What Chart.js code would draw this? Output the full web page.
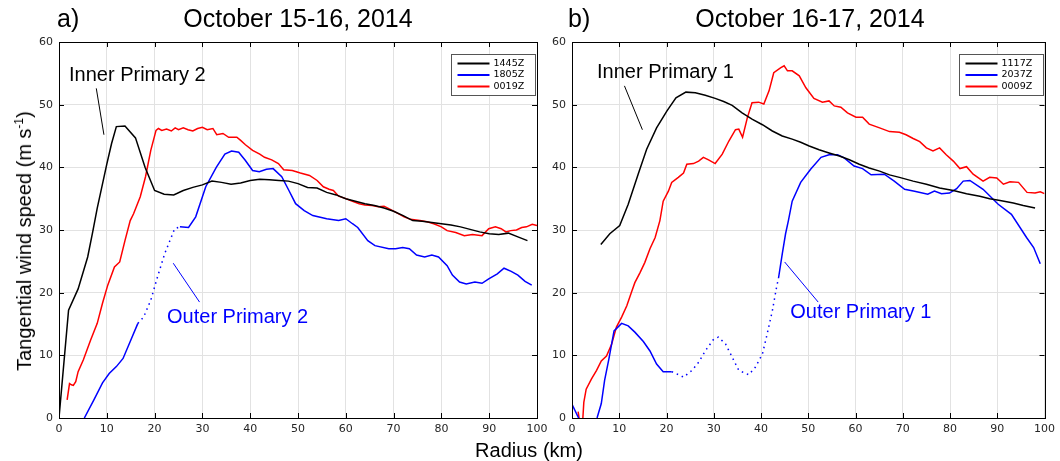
<!DOCTYPE html>
<html>
<head>
<meta charset="utf-8">
<script src="https://cdn.jsdelivr.net/npm/chart.js@4.4.1/dist/chart.umd.min.js"></script>
<style>
    body { margin: 0; width: 1060px; height: 461px; position: relative; background: #fff; overflow: hidden;
           font-family: "Liberation Sans", Arial, sans-serif; color: #000; }
    canvas { position: absolute; top: 0; }
    .txt { position: absolute; white-space: nowrap; line-height: 1; }
    .ytitle { position: absolute; left: 24px; top: 241px; font-size: 20px; white-space: nowrap; line-height: 1;
              transform: translate(-50%, -50%) rotate(-90deg); }
    .ytitle sup { font-size: 12px; vertical-align: 8px; line-height: 0; }
</style>
</head>
<body>
<canvas id="chartA" width="560" height="461" style="left:0"></canvas>
<canvas id="chartB" width="530" height="461" style="left:530px"></canvas>

<div class="txt" style="left:57px;top:6px;font-size:25px">a)</div>
<div class="txt" style="left:298px;top:6px;font-size:25px;transform:translateX(-50%)">October 15-16, 2014</div>
<div class="txt" style="left:568px;top:6px;font-size:25px">b)</div>
<div class="txt" style="left:810px;top:6px;font-size:25px;transform:translateX(-50%)">October 16-17, 2014</div>
<div class="ytitle">Tangential wind speed (m s<sup>-1</sup>)</div>
<div class="txt" style="left:529px;top:440px;font-size:20px;transform:translateX(-50%)">Radius (km)</div>

<script>
    // Panel a) October 15-16, 2014
    const a1445R = [0, 2, 4, 6, 7, 8, 9, 10, 11, 12, 13.8, 16, 18, 20, 22, 24, 26, 28, 30, 32, 34, 36, 38, 40, 42, 44, 46, 48,
        50, 52, 54, 56, 58, 60, 62, 64, 66, 68, 70, 72, 74, 76, 78, 80, 82, 84, 86, 88, 90, 92, 94, 96, 98];
    const a1445V = [0, 17.2, 20.6, 25.7, 29.5, 33.5, 37, 40.5, 43.8, 46.5, 46.6, 44.7, 40, 36.3, 35.7, 35.6, 36.3, 36.8, 37.2,
        37.8, 37.6, 37.3, 37.5, 37.9, 38.1, 38.0, 37.9, 37.8, 37.4, 36.8, 36.7, 36.0, 35.6, 35.0, 34.6, 34.2, 33.9, 33.5, 33.0,
        32.3, 31.5, 31.4, 31.2, 31.0, 30.8, 30.5, 30.1, 29.7, 29.4, 29.3, 29.5, 28.9, 28.3];

    const a1805R = [5.3, 7.3, 9.1, 10.5, 12, 13.4, 14.9, 16.5, 17.7, 19.2, 20.6, 22.1, 23.2, 24.2, 25.3, 27.1, 28.6, 30.7, 32.9,
        34.7, 36.1, 37.6, 39, 40.5, 41.9, 43.4, 44.8, 46.6, 48.1, 49.5, 51.3, 53.1, 56, 58.5, 60, 61.4, 62.5, 64.6, 66.1, 69,
        70.4, 71.9, 73.3, 74.8, 76.5, 78, 79.4, 81.2, 82.3, 83.8, 85.2, 87, 88.5, 89.9, 91.7, 93.1, 94.6, 96, 97.5, 98.9];
    const a1805V = [0, 2.9, 5.6, 7.1, 8.2, 9.5, 12.2, 15.1, 16.1, 18.8, 22.5, 26.2, 28.3, 30.2, 30.5, 30.4, 32.1, 36.9, 40,
        42.1, 42.6, 42.4, 41.1, 39.5, 39.3, 39.7, 39.8, 38.5, 36.3, 34.2, 33.1, 32.3, 31.8, 31.5, 31.8, 31.0, 30.4, 28.3, 27.5,
        27.0, 27.0, 27.2, 27.0, 26.0, 25.7, 26.0, 25.7, 24.3, 22.8, 21.7, 21.4, 21.7, 21.5, 22.2, 23.0, 23.9, 23.4, 22.8, 21.8, 21.2];
    const a1805Dotted = [16.5, 25.3];

    const a0019R = [1.7, 2.2, 2.6, 3, 3.5, 4, 5.1, 6.6, 8, 9.1, 10.2, 11.6, 12.7, 13.8, 14.9, 15.6, 17, 18.1, 19.2, 20.3, 20.8,
        21.5, 22.5, 23.5, 24.3, 25, 26, 27, 28, 29, 30, 31, 32.2, 33, 34.3, 35.5, 37.2, 38, 39, 40.5, 42, 43, 44.5, 45.9, 47,
        48.8, 50.5, 52.4, 54, 55.3, 56.5, 57.4, 58.5, 60, 61, 62.8, 64, 65.5, 66.8, 68, 69, 70.5, 72.2, 73.5, 75.5, 77, 78.4,
        80, 81.2, 83, 84.8, 86.5, 88.5, 89.9, 91.3, 92.5, 93.5, 94.5, 95.7, 96.8, 97.8, 99, 100];
    const a0019V = [2.9, 5.5, 5.3, 5.2, 5.8, 7.4, 9.3, 12.4, 15.1, 18.3, 21.2, 24.1, 24.9, 28.3, 31.5, 32.6, 35.3, 38.5, 42.7,
        45.9, 46.2, 45.9, 46.1, 45.8, 46.3, 46.0, 46.3, 46.0, 45.8, 46.2, 46.4, 46.0, 46.2, 45.2, 45.4, 44.8, 44.8, 44.3, 43.6,
        42.7, 42.1, 41.6, 41.2, 40.6, 39.6, 39.5, 39.1, 38.7, 37.9, 36.9, 36.5, 36.3, 35.4, 35.0, 34.7, 34.2, 34.0, 33.9, 33.7,
        33.8, 33.4, 32.8, 32.1, 31.7, 31.5, 31.3, 31.0, 30.5, 29.9, 29.6, 29.1, 29.3, 29.1, 30.2, 30.5, 30.2, 29.7, 29.9, 30.0,
        30.4, 30.5, 30.9, 30.7];

    // Panel b) October 16-17, 2014
    const b1117R = [6.1, 8, 10.1, 11.9, 14, 15.8, 17.9, 20.1, 22, 24.1, 26.1, 28.2, 30.3, 32.1, 33.9, 36, 38.1, 40.3, 42.4,
        44.5, 46.6, 48.4, 50.2, 52.3, 54.4, 56.6, 58.7, 60.8, 62.9, 65.1, 67.2, 69.3, 72.2, 75, 77.8, 80.7, 83.5, 86.3, 88.4,
        90.6, 93.4, 95.5, 98];
    const b1117V = [27.7, 29.4, 30.7, 34.1, 38.9, 42.9, 46.3, 49, 51.1, 52, 51.9, 51.5, 51, 50.5, 49.9, 48.7, 47.7, 46.8, 45.8,
        45, 44.5, 44, 43.4, 42.8, 42.3, 41.8, 41.2, 40.5, 39.9, 39.4, 38.8, 38.4, 37.8, 37.3, 36.7, 36.3, 35.8, 35.4, 35,
        34.7, 34.3, 33.9, 33.5];

    const b2037R = [0, 1.4, 2.0, 5.3, 6.2, 6.9, 7.8, 8.9, 10.5, 11.9, 13.3, 15.1, 16.5, 17.9, 19.3, 21.1, 22.9, 23.6, 25.4,
        26.8, 28.2, 30, 31, 32.5, 33.9, 35.3, 37.4, 38.8, 40.3, 41.3, 42.4, 43.3, 43.7, 44.5, 45.2, 45.8, 46.6, 48.4, 50.5,
        52.7, 54.4, 56.2, 57.6, 59.7, 61.5, 63.3, 66.1, 68.2, 70.4, 72.5, 75.3, 76.7, 78.2, 79.9, 81.4, 82.8, 84.2, 87, 90.2,
        93, 96.2, 97.7, 99.1];
    const b2037V = [2.2, 0, null, 0, 2.3, 6, 9.4, 13.9, 15.1, 14.7, 13.7, 12.2, 10.7, 8.6, 7.4, 7.4, 6.8, 6.5, 7.6, 8.9,
        10.7, 12.6, 12.9, 11.8, 9.7, 7.6, 6.9, 8.1, 10.2, 13.4, 17.1, 20.9, 22.3, 26.2, 29.4, 31.5, 34.6, 37.6, 39.7, 41.6,
        42, 42, 41.5, 40.2, 39.8, 38.8, 38.9, 37.8, 36.5, 36.2, 35.7, 36.2, 35.8, 35.9, 36.6, 37.8, 37.9, 36.5, 34.1, 32.5,
        28.8, 27.2, 24.6];
    const b2037Dotted = [21.1, 43.7];

    const b0009R = [1.3, 1.5, 2.0, 2.3, 2.5, 3, 4.1, 5.2, 6.2, 7.3, 8.4, 9.4, 10.5, 11.6, 12.6, 13.3, 14.4, 15.4, 16.5, 17.6,
        18.6, 19.3, 20.4, 21.1, 22.5, 23.6, 24.3, 25.7, 26.8, 27.8, 28.9, 30.3, 31.8, 33.2, 34.6, 35.3, 36.1, 37.1, 38.1,
        39.5, 40.6, 41.7, 42.7, 44.2, 44.9, 45.6, 46.6, 48.1, 49.5, 51.2, 53, 54.4, 55.5, 56.9, 58.3, 60.1, 61.5, 62.9, 65.1,
        67.2, 69.3, 70.7, 72.2, 73.6, 75, 76.4, 77.8, 79.2, 80.7, 82.1, 83.5, 84.9, 87, 88.4, 89.9, 91.3, 92.7, 94.5, 96.3,
        98, 99.1, 100];
    const b0009V = [1.0, 0, null, 0, 2.5, 4.6, 6.2, 7.6, 9.1, 9.9, 11.8, 14.5, 16.1, 17.9, 20.1, 21.6, 23.2, 24.8, 27, 28.8,
        31.5, 34.6, 36.2, 37.6, 38.4, 39.1, 40.5, 40.6, 41, 41.6, 41.2, 40.6, 42.1, 44.2, 46, 46.1, 44.8, 47.9, 50.3, 50.4,
        50.1, 52.2, 55.1, 55.9, 56.2, 55.4, 55.4, 54.6, 52.7, 51, 50.4, 50.6, 49.8, 49.6, 48.7, 48, 48, 46.9, 46.3, 45.7,
        45.6, 45.2, 44.6, 44.1, 43.1, 42.6, 43.1, 42, 41, 39.8, 40.1, 38.9, 37.8, 38.4, 38.3, 37.3, 37.7, 37.6, 36, 35.9,
        36.1, 35.8];

    const labelsA = ['1445Z', '1805Z', '0019Z'];
    const labelsB = ['1117Z', '2037Z', '0009Z'];

    // text labels with pointer lines, in data units: [text, x, y, lineX1, lineY1, lineX2, lineY2, colour]
    const notesA = [
        ['Inner Primary 2', 2.1, 54.7, 7.8, 52.6, 9.4, 45.2, '#000'],
        ['Outer Primary 2', 22.6, 16.0, 23.9, 24.7, 29.4, 18.5, '#0000ff']
    ];
    const notesB = [
        ['Inner Primary 1', 5.3, 55.2, 11.1, 53.0, 14.9, 46.0, '#000'],
        ['Outer Primary 1', 46.2, 16.8, 45.0, 24.9, 52.1, 18.5, '#0000ff']
    ];

    const colours = ['#000000', '#0000ff', '#ff0000'];

    function toPoints(r, v) {
        return r.map(function (x, i) { return {x: x, y: v[i]}; });
    }

    function dottedBetween(range) {
        return function (ctx) {
            if (ctx.p0.parsed.x >= range[0] - 1e-6 && ctx.p1.parsed.x <= range[1] + 1e-6) {
                return [1.5, 4];
            }
            return undefined;
        };
    }

    function series(label, r, v, colour, dotted) {
        let ds = {
            label: label,
            data: toPoints(r, v),
            borderColor: colour,
            backgroundColor: colour,
            borderWidth: 1.5,
            pointRadius: 0,
            fill: false,
            spanGaps: false,
            clip: 0
        };
        if (dotted) {
            ds.segment = {borderDash: dottedBetween(dotted)};
        }
        return ds;
    }

    /**
     * Box round the plot, inward ticks, legend box and the labelled pointers.
     */
    const framePlugin = {
        id: 'frame',
        afterDatasetsDraw: function (chart, args, opts) {
            let c = chart.ctx;
            let a = chart.chartArea;
            let xs = chart.scales.x;
            let ys = chart.scales.y;
            c.save();

            // labels and pointer lines
            opts.notes.forEach(function (n) {
                c.strokeStyle = n[7];
                c.lineWidth = 1;
                c.beginPath();
                c.moveTo(xs.getPixelForValue(n[3]), ys.getPixelForValue(n[4]));
                c.lineTo(xs.getPixelForValue(n[5]), ys.getPixelForValue(n[6]));
                c.stroke();
                c.fillStyle = n[7];
                c.font = '20px "Liberation Sans", Arial, sans-serif';
                c.textAlign = 'left';
                c.textBaseline = 'middle';
                c.fillText(n[0], xs.getPixelForValue(n[1]), ys.getPixelForValue(n[2]));
            });

            // frame
            c.strokeStyle = '#000';
            c.lineWidth = 1;
            c.strokeRect(Math.round(a.left) + 0.5, Math.round(a.top) + 0.5,
                Math.round(a.right - a.left), Math.round(a.bottom - a.top));

            // inward ticks on all four sides
            c.beginPath();
            for (let v = 0; v <= 100; v += 10) {
                let px = Math.round(xs.getPixelForValue(v)) + 0.5;
                c.moveTo(px, a.bottom); c.lineTo(px, a.bottom - 5);
                c.moveTo(px, a.top); c.lineTo(px, a.top + 5);
            }
            for (let v = 0; v <= 60; v += 10) {
                let py = Math.round(ys.getPixelForValue(v)) + 0.5;
                c.moveTo(a.left, py); c.lineTo(a.left + 5, py);
                c.moveTo(a.right, py); c.lineTo(a.right - 5, py);
            }
            c.stroke();

            // legend
            let bw = 84, bh = 41;
            let bx = Math.round(a.right - 2 - bw) + 0.5;
            let by = Math.round(a.top + 12) + 0.5;
            c.fillStyle = '#fff';
            c.fillRect(bx, by, bw, bh);
            c.strokeStyle = '#555';
            c.lineWidth = 1;
            c.strokeRect(bx, by, bw, bh);
            c.font = '9.5px "DejaVu Sans", sans-serif';
            c.textBaseline = 'middle';
            chart.data.datasets.forEach(function (ds, i) {
                let ly = by + 9 + i * 11.5;
                c.strokeStyle = ds.borderColor;
                c.lineWidth = 2;
                c.beginPath();
                c.moveTo(bx + 6, ly);
                c.lineTo(bx + 38, ly);
                c.stroke();
                c.fillStyle = '#000';
                c.fillText(ds.label, bx + 42, ly);
            });
            c.restore();
        }
    };

    function makeChart(id, datasets, notes, yWidth, padRight) {
        let tickFont = {family: '"DejaVu Sans", sans-serif', size: 11};
        return new Chart(document.getElementById(id), {
            type: 'line',
            data: {datasets: datasets},
            options: {
                responsive: false,
                animation: false,
                devicePixelRatio: 1,
                layout: {padding: {top: 42, right: padRight, left: 0, bottom: 0}},
                plugins: {
                    legend: {display: false},
                    tooltip: {enabled: false},
                    frame: {notes: notes}
                },
                scales: {
                    x: {
                        type: 'linear', min: 0, max: 100,
                        ticks: {stepSize: 10, font: tickFont, color: '#262626', padding: 5, maxRotation: 0, autoSkip: false},
                        grid: {color: '#e2e2e2', drawTicks: false},
                        border: {display: false},
                        afterFit: function (s) { s.height = 43; }
                    },
                    y: {
                        min: 0, max: 60,
                        ticks: {stepSize: 10, font: tickFont, color: '#262626', padding: 6},
                        grid: {color: '#e2e2e2', drawTicks: false},
                        border: {display: false},
                        afterFit: function (s) { s.width = yWidth; }
                    }
                }
            },
            plugins: [framePlugin]
        });
    }

    makeChart('chartA', [
        series(labelsA[0], a1445R, a1445V, colours[0]),
        series(labelsA[1], a1805R, a1805V, colours[1], a1805Dotted),
        series(labelsA[2], a0019R, a0019V, colours[2])
    ], notesA, 59, 23);

    makeChart('chartB', [
        series(labelsB[0], b1117R, b1117V, colours[0]),
        series(labelsB[1], b2037R, b2037V, colours[1], b2037Dotted),
        series(labelsB[2], b0009R, b0009V, colours[2])
    ], notesB, 42, 12);
</script>
</body>
</html>
